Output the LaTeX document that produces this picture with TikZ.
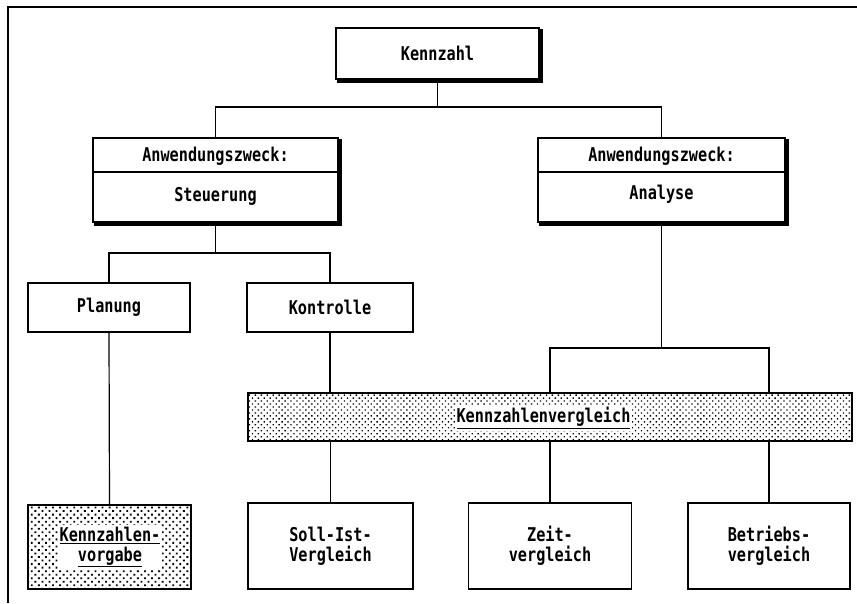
\documentclass[tikz,border=0pt]{standalone}
\usepackage{fontspec}
\setmonofont[FakeStretch=0.8]{DejaVu Sans Mono}
\usetikzlibrary{patterns.meta,calc}
\begin{document}
\begin{tikzpicture}[x=1pt,y=-1pt,
  lbl/.style={font=\ttfamily\bfseries\fontsize{19}{20}\selectfont, align=center, inner sep=0pt},
  box/.style={lbl, draw, line width=1.8pt, fill=white, minimum width=#1},
  shade/.style={line width=2.2pt, line cap=rect},
  link/.style={line width=1.2pt},
  frame/.style={line width=1.2pt},
  finedots/.style={pattern={Dots[angle=45, distance=4.2pt, radius=0.95pt]}},
  coarsedots/.style={pattern={Dots[angle=45, distance=5pt, radius=1.3pt]}},
  clear/.style={lbl, fill=white, inner sep=2pt}]
\useasboundingbox (0,0) rectangle (857,603);
% frame lines of the page
\coordinate (fa) at (8,603);
\coordinate (fb) at (8,7);
\coordinate (fc) at (857,7);
\draw[frame] (fa) -- (fb) -- (fc);

% nodes
\node[box=203pt, minimum height=51pt] (kz) at (437.5,53.5) {Kennzahl};
\draw[shade] ($(kz.south west)+(3,1.6)$) -- ($(kz.south east)+(1.6,1.6)$) -- ($(kz.north east)+(1.6,3)$);

\node[box=245pt, minimum height=84pt] (st) at (215.5,180) {};
\draw[shade] ($(st.south west)+(3,1.6)$) -- ($(st.south east)+(1.6,1.6)$) -- ($(st.north east)+(1.6,3)$);
\draw[line width=1.8pt] (st.west |- 0,172) -- (st.east |- 0,172);
\node[lbl] (stA) at (215.5,156) {Anwendungszweck:};
\node[lbl] (stB) at (215.5,196) {Steuerung};

\node[box=247pt, minimum height=84pt] (an) at (661.5,180) {};
\draw[shade] ($(an.south west)+(3,1.6)$) -- ($(an.south east)+(1.6,1.6)$) -- ($(an.north east)+(1.6,3)$);
\draw[line width=1.8pt] (an.west |- 0,172) -- (an.east |- 0,172);
\node[lbl] (anA) at (661.5,156) {Anwendungszweck:};
\node[lbl] (anB) at (661.5,194) {Analyse};

\node[box=162pt, minimum height=49pt] (pl) at (109,307.5) {Planung};
\node[box=166pt, minimum height=49pt] (ko) at (330,307.5) {Kontrolle};

\node[box=604pt, minimum height=48pt, finedots] (kv) at (550,417) {};
\node[clear] (kvt) at (543.5,418) {\underline{Kennzahlenvergleich}};

\node[box=163pt, minimum height=84pt, coarsedots] (vo) at (109.5,547) {};
\node[clear] (vot) at (110,547) {\underline{Kennzahlen-}\\\underline{vorgabe}};

\node[box=165pt, minimum height=86pt] (si) at (330.5,546) {Soll-Ist-\\Vergleich};
\node[box=163pt, minimum height=86pt] (ze) at (550,546) {Zeit-\\vergleich};
\node[box=162pt, minimum height=86pt] (be) at (769,546) {Betriebs-\\vergleich};

% junctions
\coordinate (j1) at (437.5,107);
\coordinate (j2) at (215.5,253);
\coordinate (j3) at (661.5,348);

% connectors
\draw[link] (kz.south) -- (j1);
\draw[link] (st.north) |- (j1) -| (an.north);
\draw[link] (st.south) -- (j2);
\draw[link] (pl.north) |- (j2) -| (ko.north);
\draw[link] (pl.south) -- (vo.north);
\draw[link] (ko.south) -- (ko.south |- kv.north);
\draw[link] (an.south) -- (j3);
\draw[link] (ze.north |- kv.north) |- (j3) -| (be.north |- kv.north);
\draw[link] (si.north |- kv.south) -- (si.north);
\draw[link] (ze.north |- kv.south) -- (ze.north);
\draw[link] (be.north |- kv.south) -- (be.north);
\end{tikzpicture}
\end{document}
